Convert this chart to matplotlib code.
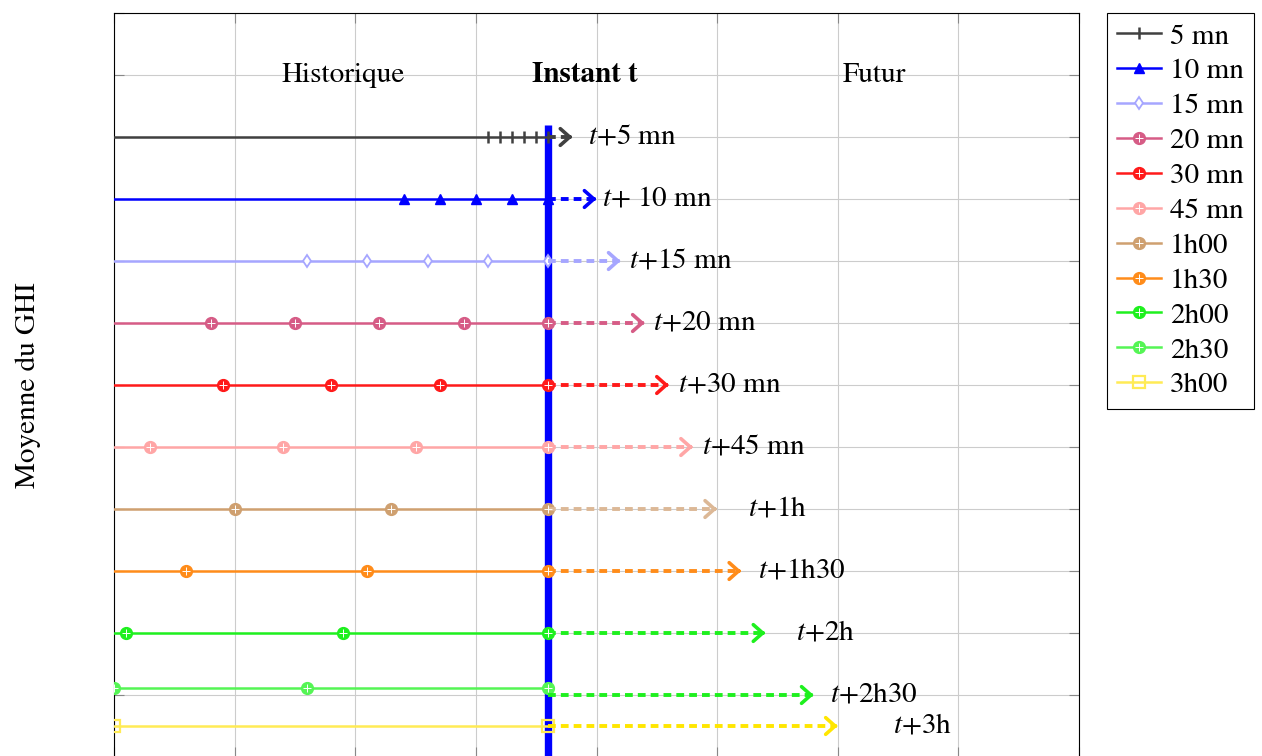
import matplotlib
matplotlib.use("Agg")
import matplotlib.pyplot as plt

plt.rcParams['font.family'] = ['STIXGeneral', 'DejaVu Serif']
plt.rcParams['mathtext.fontset'] = 'stix'

# horizon names (legend) and forecast labels
horizons = ['5 mn', '10 mn', '15 mn', '20 mn', '30 mn', '45 mn',
            '1h00', '1h30', '2h00', '2h30', '3h00']
target_labels = [r'$t$+5 mn', r'$t$+ 10 mn', r'$t$+15 mn', r'$t$+20 mn',
                 r'$t$+30 mn', r'$t$+45 mn', r'$t$+1h', r'$t$+1h30',
                 r'$t$+2h', r'$t$+2h30', r'$t$+3h']

# sample positions (minutes) of the history for each horizon
samples = [
    [155, 160, 165, 170, 175, 180],
    [120, 135, 150, 165, 180],
    [80, 105, 130, 155, 180],
    [40, 75, 110, 145, 180],
    [45, 90, 135, 180],
    [15, 70, 125, 180],
    [50, 115, 180],
    [30, 105, 180],
    [5, 95, 180],
    [0, 80, 180],
    [0, 180],
]
line_y = [11, 10, 9, 8, 7, 6, 5, 4, 3, 2.12, 1.5]
arrow_y = [11, 10, 9, 8, 7, 6, 5, 4, 3, 2.0, 1.5]
arrow_end = [190, 200, 210, 220, 230, 240, 250, 260, 270, 290, 300]
label_x = [215, 225, 235, 245, 255, 265, 275, 285, 295, 315, 335]

colors = ['#404040', '#0000ff', '#a6a6ff', '#d65c86', '#ff1a1a', '#ffa6a6',
          '#cfa070', '#ff8c1a', '#1ef01e', '#55f555', '#ffeb55']
arrow_colors = ['#404040', '#0000ff', '#a6a6ff', '#d65c86', '#ff1a1a', '#ffa6a6',
                '#dcb896', '#ff8c1a', '#1ef01e', '#1ef01e', '#ffe600']
markers = ['|', '^', 'd', 'o', 'o', 'o', 'o', 'o', 'o', 'o', 's']

instant_t = 180
section_x = [95, 195, 315]
section_names = ['Historique', 'Instant t', 'Futur']

fig = plt.figure(figsize=(12.62, 7.56), dpi=100)
ax = fig.add_axes([114 / 1262, -1 / 756, 965 / 1262, 744 / 756])
ax.set_xlim(0, 400)
ax.set_ylim(1.075, 13)
ax.set_xticks(range(0, 401, 50))
ax.set_yticks(range(1, 14))
ax.grid(True, color='#cccccc', linewidth=0.8, zorder=0)
ax.tick_params(direction='in', length=7, color='#888888', top=True, right=True,
               labelbottom=False, labelleft=False)
for sp in ax.spines.values():
    sp.set_linewidth(0.8)

# instant t
ax.plot([instant_t, instant_t], [11.2, 0], color='#0000ff', lw=5.3, zorder=2,
        solid_capstyle='butt')

handles = []
for i, name in enumerate(horizons):
    pts = samples[i]
    xs = pts if pts[0] == 0 else [0] + pts
    first = 0 if pts[0] == 0 else 1
    ys = [line_y[i]] * len(xs)
    c = colors[i]
    m = markers[i]
    if m == 'o':
        l1, = ax.plot(xs, ys, color=c, lw=1.8, marker='o', ms=8.5, mfc=c, mec=c,
                      markevery=slice(first, None), zorder=3)
        l2, = ax.plot(xs[first:], ys[first:], ls='none', marker='+', ms=6,
                      mew=0.7, color='white', zorder=4)
        handles.append((l1, l2))
    elif m == '|':
        l1, = ax.plot(xs, ys, color=c, lw=1.8, marker='|', ms=8, mew=1.8,
                      markevery=slice(first, None), zorder=3)
        handles.append(l1)
    elif m == '^':
        l1, = ax.plot(xs, ys, color=c, lw=1.8, marker='^', ms=7, mfc=c,
                      markevery=slice(first, None), zorder=3)
        handles.append(l1)
    elif m == 'd':
        l1, = ax.plot(xs, ys, color=c, lw=1.8, marker='d', ms=6.5, mfc='white',
                      mew=1.3, markevery=slice(first, None), zorder=3)
        handles.append(l1)
    else:
        l1, = ax.plot(xs, ys, color=c, lw=1.8, marker='s', ms=8, mfc='none',
                      mew=1.6, markevery=slice(first, None), zorder=3)
        handles.append(l1)

    # dashed forecast arrow
    ac = arrow_colors[i]
    ax.plot([instant_t, arrow_end[i] - 1], [arrow_y[i], arrow_y[i]], color=ac,
            lw=2.8, dashes=(2.0, 1.3), zorder=3)
    ax.annotate('', xy=(arrow_end[i], arrow_y[i]),
                xytext=(arrow_end[i] - 1.5, arrow_y[i]),
                arrowprops=dict(arrowstyle='->, head_length=0.45, head_width=0.4',
                                color=ac, lw=2.6, mutation_scale=15,
                                shrinkA=0, shrinkB=0), zorder=3)
    ax.text(label_x[i], arrow_y[i], target_labels[i], ha='center', va='center',
            fontsize=21)

for x, s in zip(section_x, section_names):
    ax.text(x, 12, s, ha='center', va='center', fontsize=21,
            fontweight='bold' if s == 'Instant t' else 'normal')

ax.set_ylabel('Moyenne du GHI', fontsize=21)
ax.yaxis.set_label_coords(-73 / 965, 0.5)

leg = fig.legend(handles, horizons, loc='upper left',
                 bbox_to_anchor=(1107 / 1262, 1 - 13 / 756),
                 bbox_transform=fig.transFigure, fontsize=21, frameon=True,
                 fancybox=False, edgecolor='black', framealpha=1,
                 handlelength=1.5, handletextpad=0.3, borderpad=0.35,
                 labelspacing=0.29, borderaxespad=0)
leg.get_frame().set_linewidth(0.8)

fig.savefig('out.png', dpi=100)
